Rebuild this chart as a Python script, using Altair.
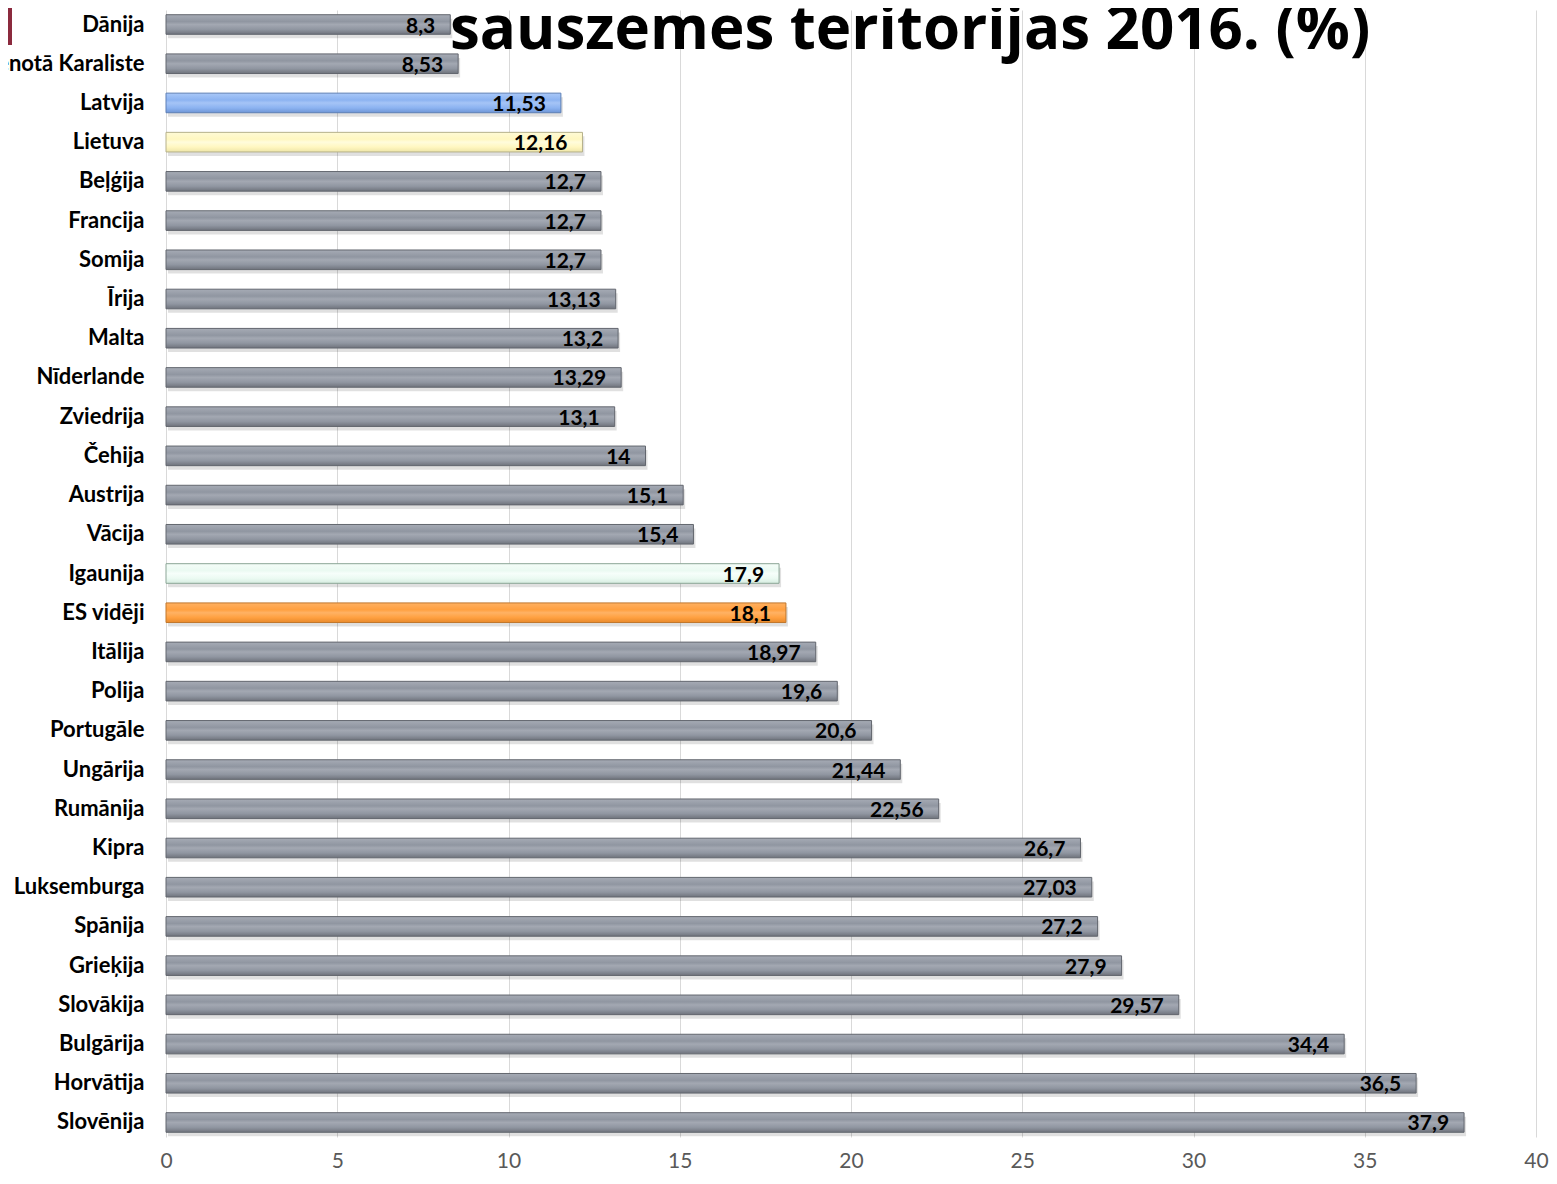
import altair as alt
import pandas as pd

countries = ["Dānija", "Apvienotā Karaliste", "Latvija", "Lietuva", "Beļģija", "Francija",
             "Somija", "Īrija", "Malta", "Nīderlande", "Zviedrija", "Čehija", "Austrija",
             "Vācija", "Igaunija", "ES vidēji", "Itālija", "Polija", "Portugāle", "Ungārija",
             "Rumānija", "Kipra", "Luksemburga", "Spānija", "Grieķija", "Slovākija",
             "Bulgārija", "Horvātija", "Slovēnija"]
values = [8.3, 8.53, 11.53, 12.16, 12.7, 12.7, 12.7, 13.13, 13.2, 13.29, 13.1, 14, 15.1,
          15.4, 17.9, 18.1, 18.97, 19.6, 20.6, 21.44, 22.56, 26.7, 27.03, 27.2, 27.9, 29.57,
          34.4, 36.5, 37.9]
groups = ["gray"] * len(countries)
groups[countries.index("Latvija")] = "lv"
groups[countries.index("Lietuva")] = "lt"
groups[countries.index("Igaunija")] = "ee"
groups[countries.index("ES vidēji")] = "eu"
title_text = "sauszemes teritorijas 2016. (%)"
x_ticks = [0, 5, 10, 15, 20, 25, 30, 35, 40]

df = pd.DataFrame({
    "country": countries,
    "value": values,
    "label": [f"{v:g}".replace(".", ",") for v in values],
    "group": groups,
})

FONT = "Lato"


def grad(top, light, mid, bottom):
    return alt.Gradient(
        gradient="linear", x1=0, x2=0, y1=0, y2=1,
        stops=[
            alt.GradientStop(offset=0, color=top),
            alt.GradientStop(offset=0.35, color=mid),
            alt.GradientStop(offset=0.5, color=light),
            alt.GradientStop(offset=0.75, color=mid),
            alt.GradientStop(offset=1, color=bottom),
        ],
    )


styles = {
    "gray": (grad("#a6abb5", "#a3a8b2", "#9096a1", "#6f737c"), "#62666e"),
    "lv": (grad("#a9c8f8", "#a5c4f6", "#8cb3f1", "#6f96d6"), "#5d7fb5"),
    "lt": (grad("#fffbd6", "#fffcdc", "#fff7c0", "#eee5a8"), "#b5b08a"),
    "ee": (grad("#f4fdf8", "#f6fefa", "#ebfaf2", "#d6ece0"), "#8ba596"),
    "eu": (grad("#ffb060", "#ffb264", "#ffa040", "#e88a2c"), "#c0772c"),
}

y_enc = alt.Y(
    "country:N", sort=countries, title=None,
    scale=alt.Scale(paddingInner=0.5, paddingOuter=0.12),
    axis=alt.Axis(labelFont=FONT, labelFontWeight="bold", labelFontSize=22,
                  labelColor="#000000", labelPadding=22, domain=False, ticks=False,
                  labelLimit=400),
)
x_enc = alt.X(
    "value:Q", title=None,
    scale=alt.Scale(domain=[0, 40], nice=False, zero=True),
    axis=alt.Axis(values=x_ticks, labelFont=FONT, labelFontSize=21, labelColor="#595959",
                  domain=False, ticks=False, grid=True, gridColor="#d9d9d9",
                  labelPadding=13, labelFlush=False),
)

base = alt.Chart(df)

shadow = base.mark_bar(color="#000000", opacity=0.12, yOffset=4, xOffset=2).encode(
    x=x_enc, y=y_enc
)

layers = [shadow]
for g, (fill, stroke) in styles.items():
    layers.append(
        base.transform_filter(alt.datum.group == g)
        .mark_bar(fill=fill, stroke=stroke, strokeWidth=1)
        .encode(x=alt.X("value:Q"), y=alt.Y("country:N", sort=countries))
    )

labels = base.mark_text(align="right", baseline="middle", dx=-15, dy=2, font=FONT,
                        fontWeight="bold", fontSize=21, color="#000000").encode(
    x=alt.X("value:Q"), y=alt.Y("country:N", sort=countries), text="label:N"
)

title_layer = alt.Chart(pd.DataFrame({"t": [title_text]})).mark_text(
    align="left", baseline="alphabetic", font="Open Sans", fontWeight="bold", fontSize=60,
    color="#000000"
).encode(text="t:N", x=alt.value(284), y=alt.value(39))

corner = alt.Chart(pd.DataFrame({"k": [1]})).mark_rect(color="#8b2a3e").encode(
    x=alt.value(-158), x2=alt.value(-154), y=alt.value(-10), y2=alt.value(35)
)

chart = alt.layer(*layers, labels, title_layer, corner).properties(
    width=1370, height=1127,
    autosize=alt.AutoSizeParams(type="none"),
    padding={"left": 158, "top": 2, "right": 13, "bottom": 33},
).configure_view(stroke=None)

chart.save("out.html", embed_options={"renderer": "svg", "actions": False})
